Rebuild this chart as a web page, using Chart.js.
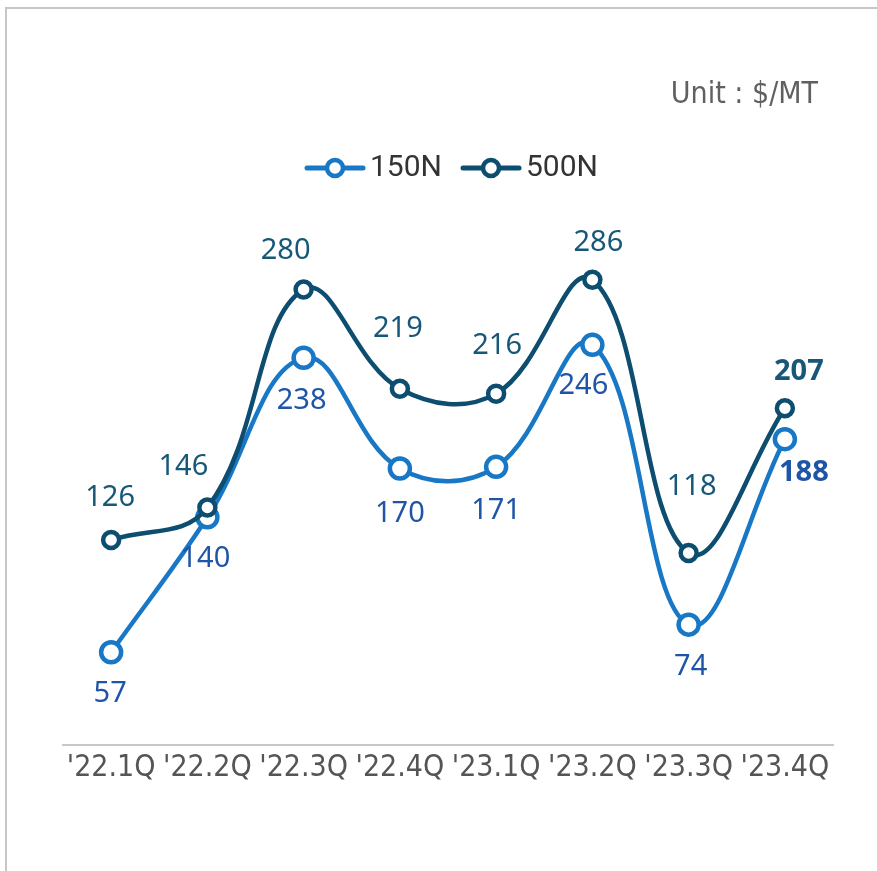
<!DOCTYPE html>
<html>
<head>
<meta charset="utf-8">
<script src="https://cdn.jsdelivr.net/npm/chart.js@4/dist/chart.umd.min.js"></script>
<style>
  html, body { margin: 0; padding: 0; background: #ffffff; }
  #wrap { width: 877px; height: 871px; position: relative; }
</style>
</head>
<body>
<div id="wrap"><canvas id="c" width="877" height="871"></canvas></div>
<script>
const categories = ["'22.1Q", "'22.2Q", "'22.3Q", "'22.4Q", "'23.1Q", "'23.2Q", "'23.3Q", "'23.4Q"];
const series150N = [57, 140, 238, 170, 171, 246, 74, 188];
const series500N = [126, 146, 280, 219, 216, 286, 118, 207];
const seriesNames = ["150N", "500N"];
const unitText = "Unit : $/MT";

const COL150 = '#1878c6';
const COL500 = '#0c4d70';
const LBL150 = '#1f55a6';
const LBL500 = '#175878';

// label nudges (dx, dy from point centre), layout only
const nudge500 = [[-1,-42],[-24,-41],[-18,-39],[-2,-60],[1,-48],[6,-37],[3,-66],[14,-37]];
const nudge150 = [[-1,41],[-2,41],[-2,43],[0,45],[0,44],[-9,41],[2,42],[19,34]];

const framePlugin = {
  id: 'frame',
  beforeDraw(chart) {
    const ctx = chart.ctx;
    ctx.save();
    ctx.fillStyle = '#ffffff';
    ctx.fillRect(0, 0, chart.width, chart.height);
    ctx.strokeStyle = '#c6c6c6';
    ctx.lineWidth = 2;
    ctx.beginPath();
    ctx.moveTo(6, chart.height);
    ctx.lineTo(6, 8);
    ctx.lineTo(chart.width, 8);
    ctx.stroke();
    // unit text
    ctx.fillStyle = '#606060';
    ctx.font = '300 30px "Liberation Sans Narrow", "DejaVu Sans Condensed", sans-serif';
    ctx.textAlign = 'right';
    ctx.textBaseline = 'middle';
    ctx.fillText(unitText, 818, 95);
    // legend
    const items = [
      { name: seriesNames[0], color: COL150, x: 307 },
      { name: seriesNames[1], color: COL500, x: 463 }
    ];
    const ly = 168;
    items.forEach(it => {
      ctx.strokeStyle = it.color;
      ctx.lineWidth = 5;
      ctx.lineCap = 'round';
      ctx.beginPath();
      ctx.moveTo(it.x, ly);
      ctx.lineTo(it.x + 56, ly);
      ctx.stroke();
      ctx.beginPath();
      ctx.arc(it.x + 28, ly, 8, 0, Math.PI * 2);
      ctx.fillStyle = '#ffffff';
      ctx.fill();
      ctx.lineWidth = 4.5;
      ctx.stroke();
      ctx.fillStyle = '#333333';
      ctx.font = '30px Roboto, "Noto Sans", sans-serif';
      ctx.textAlign = 'left';
      ctx.textBaseline = 'middle';
      ctx.fillText(it.name, it.x + 63, ly);
    });
    ctx.restore();
  }
};

const labelPlugin = {
  id: 'vlabels',
  afterDatasetsDraw(chart) {
    const ctx = chart.ctx;
    ctx.save();
    ctx.textAlign = 'center';
    ctx.textBaseline = 'middle';
    const cfg = [
      { ds: 1, color: LBL500, nudge: nudge500 },
      { ds: 0, color: LBL150, nudge: nudge150 }
    ];
    cfg.forEach(c => {
      const meta = chart.getDatasetMeta(c.ds);
      const data = chart.data.datasets[c.ds].data;
      meta.data.forEach((pt, i) => {
        const last = i === data.length - 1;
        ctx.font = (last ? 'bold ' : '') + '29px "Noto Sans", "Open Sans", sans-serif';
        ctx.fillStyle = c.color;
        ctx.fillText(String(data[i]), pt.x + c.nudge[i][0], pt.y + c.nudge[i][1]);
      });
    });
    ctx.restore();
  }
};

new Chart(document.getElementById('c'), {
  type: 'line',
  data: {
    labels: categories,
    datasets: [
      {
        label: seriesNames[0],
        data: series150N,
        borderColor: COL150,
        backgroundColor: '#ffffff',
        borderWidth: 4.5,
        tension: 0.4,
        pointRadius: 10,
        pointBorderWidth: 4.5,
        pointBackgroundColor: '#ffffff',
        pointBorderColor: COL150,
        order: 2
      },
      {
        label: seriesNames[1],
        data: series500N,
        borderColor: COL500,
        backgroundColor: '#ffffff',
        borderWidth: 4.5,
        tension: 0.4,
        pointRadius: 8,
        pointBorderWidth: 4.5,
        pointBackgroundColor: '#ffffff',
        pointBorderColor: COL500,
        order: 1
      }
    ]
  },
  options: {
    responsive: false,
    animation: false,
    devicePixelRatio: 1,
    layout: { padding: { left: 63, right: 44, top: 257, bottom: 0 } },
    plugins: {
      legend: { display: false },
      tooltip: { enabled: false },
      title: { display: false }
    },
    scales: {
      x: {
        offset: true,
        grid: { display: false, drawTicks: false },
        border: { display: true, color: '#c8c8c8', width: 2 },
        ticks: {
          color: '#555555',
          padding: 5,
          font: { family: '"Liberation Sans Narrow", "DejaVu Sans Condensed", sans-serif', size: 30, weight: '300' },
          maxRotation: 0,
          autoSkip: false
        },
        afterFit(scale) { scale.height = 126; }
      },
      y: {
        display: false,
        min: 0,
        max: 300
      }
    }
  },
  plugins: [framePlugin, labelPlugin]
});
</script>
</body>
</html>
